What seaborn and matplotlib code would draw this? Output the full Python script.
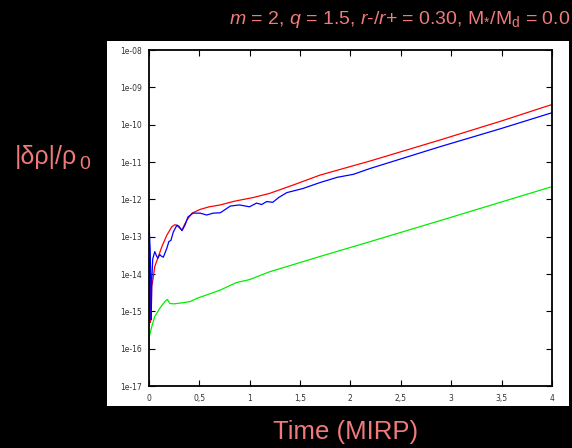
import numpy as np
import pandas as pd
import matplotlib
matplotlib.use("Agg")
import matplotlib.pyplot as plt
import matplotlib.ticker as mticker
from matplotlib.patches import Rectangle
import seaborn as sns

# ---- data (log10 of |delta rho|/rho0) ----
t_red = [0.000, 0.003, 0.006, 0.009, 0.012, 0.016, 0.020, 0.025, 0.030, 0.045,
         0.060, 0.095, 0.13, 0.18, 0.23, 0.26, 0.28, 0.31, 0.33, 0.36, 0.38,
         0.43, 0.51, 0.60, 0.71, 0.85, 1.04, 1.20, 1.45, 1.70, 2.20, 2.89, 3.50, 4.00]
log_red = [-13.5, -15.2, -13.7, -15.0, -13.9, -15.3, -14.4, -15.0, -14.34, -14.1,
           -13.8, -13.54, -13.27, -12.96, -12.73, -12.68, -12.70, -12.78, -12.82, -12.65, -12.55,
           -12.37, -12.27, -12.2, -12.15, -12.05, -11.95, -11.84, -11.6, -11.35, -10.97, -10.41, -9.9, -9.46]

t_blue = [0.000, 0.006, 0.012, 0.015, 0.020, 0.025, 0.030, 0.040, 0.046, 0.06,
          0.075, 0.09, 0.11, 0.125, 0.145, 0.18, 0.20, 0.22, 0.245, 0.28, 0.30,
          0.33, 0.36, 0.39, 0.44, 0.51, 0.575, 0.64, 0.71, 0.81, 0.90, 1.00, 1.07,
          1.12, 1.17, 1.23, 1.29, 1.37, 1.53, 1.70, 1.87, 2.03, 2.20, 2.89, 3.50, 4.00]
log_blue = [-12.42, -12.82, -13.2, -13.34, -14.2, -15.23, -14.2, -13.6, -13.54, -13.4,
            -13.5, -13.58, -13.48, -13.52, -13.55, -13.31, -13.13, -13.1, -12.87, -12.69, -12.72,
            -12.84, -12.69, -12.47, -12.37, -12.37, -12.42, -12.37, -12.36, -12.18, -12.15, -12.2, -12.1,
            -12.14, -12.06, -12.08, -11.95, -11.82, -11.71, -11.55, -11.41, -11.33, -11.17, -10.59, -10.1, -9.68]

t_green = [0.000, 0.006, 0.03, 0.06, 0.11, 0.16, 0.185, 0.21, 0.25, 0.31, 0.41,
           0.48, 0.575, 0.71, 0.87, 1.00, 1.20, 1.70, 2.20, 2.89, 3.50, 4.00]
log_green = [-16.04, -15.68, -15.41, -15.14, -14.92, -14.74, -14.68, -14.79, -14.8, -14.78, -14.74,
             -14.65, -14.56, -14.43, -14.23, -14.15, -13.94, -13.53, -13.13, -12.57, -12.07, -11.66]

x_ticks = [0, 0.5, 1, 1.5, 2, 2.5, 3, 3.5, 4]
x_labels = ["0", "0,5", "1", "1,5", "2", "2,5", "3", "3,5", "4"]
y_ticks = [1e-17, 1e-16, 1e-15, 1e-14, 1e-13, 1e-12, 1e-11, 1e-10, 1e-09, 1e-08]
y_labels = ["1e-17", "1e-16", "1e-15", "1e-14", "1e-13", "1e-12", "1e-11", "1e-10", "1e-09", "1e-08"]

title_txt = r"$m$ = 2, $q$ = 1.5, $r$-/$r$+ = 0.30, M$_{*}$/M$_{\mathrm{d}}$ = 0.0"

# ---- build frame ----
frames = []
for name, t, lg in [("red", t_red, log_red), ("blue", t_blue, log_blue), ("green", t_green, log_green)]:
    frames.append(pd.DataFrame({"t": t, "v": np.power(10.0, lg), "s": name}))
df = pd.concat(frames, ignore_index=True)

sns.set_style("ticks")
plt.rcParams["mathtext.fontset"] = "custom"
plt.rcParams["mathtext.rm"] = "Liberation Sans"
plt.rcParams["mathtext.it"] = "Liberation Sans:italic"

salmon = "#f07a7a"

fig = plt.figure(figsize=(5.72, 4.48), dpi=100, facecolor="black")
panel = Rectangle((107 / 572, 1 - 406 / 448), 462 / 572, 365 / 448,
                  transform=fig.transFigure, facecolor="white",
                  edgecolor="none", zorder=-5)
fig.patches.append(panel)
ax = fig.add_axes([148.7 / 572, 1 - 386 / 448, 403.3 / 572, 336 / 448])
ax.set_zorder(2)
ax.set_facecolor("white")

sns.lineplot(data=df, x="t", y="v", hue="s", palette={"red": "#ff0000", "blue": "#0000ff", "green": "#00ee00"},
             ax=ax, legend=False, linewidth=0.9, sort=False, estimator=None)

ax.set_yscale("log")
ax.set_xlim(0, 4)
ax.set_ylim(1e-17, 1e-08)
ax.set_xticks(x_ticks)
ax.set_xticklabels(x_labels)
ax.set_yticks(y_ticks)
ax.set_yticklabels(y_labels)
ax.yaxis.set_minor_locator(mticker.LogLocator(base=10, subs=np.arange(2, 10)))
ax.yaxis.set_minor_formatter(mticker.NullFormatter())
ax.set_xlabel("")
ax.set_ylabel("")
ax.tick_params(which="both", direction="in", top=True, right=True, colors="black",
               labelcolor="#333333", labelsize=5.5, width=0.8)
ax.tick_params(which="major", length=4)
ax.tick_params(which="minor", length=2)
ax.tick_params(axis="y", pad=5)
ax.tick_params(axis="x", pad=6)
for sp in ax.spines.values():
    sp.set_visible(True)
    sp.set_color("black")
    sp.set_linewidth(1.3)

# ---- texts ----
fig.text(400 / 572, 1 - 20 / 448, title_txt, color=salmon, fontsize=14,
         family="Liberation Sans", ha="center", va="center")
fig.text(346 / 572, 1 - 432 / 448, "Time (MIRP)", color=salmon, fontsize=18.5,
         family="Liberation Sans", ha="center", va="center")
fig.text(15 / 572, 1 - 157 / 448, "|δρ|/ρ", color=salmon, fontsize=18,
         family="Liberation Sans", ha="left", va="center")
fig.text(79 / 572, 1 - 164 / 448, "0", color=salmon, fontsize=14,
         family="Liberation Sans", ha="left", va="center")

fig.savefig("out.png", dpi=100, facecolor="black")
